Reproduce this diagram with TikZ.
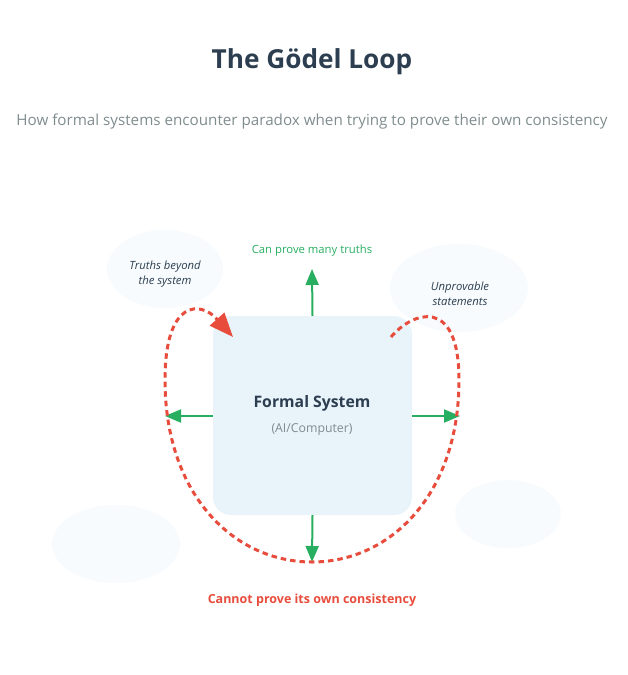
\documentclass[tikz,border=0pt]{standalone}
\usepackage{fontspec}
\setmainfont{Open Sans}
\usetikzlibrary{arrows.meta, positioning}
\definecolor{ink}{HTML}{2C3E50}
\definecolor{muted}{HTML}{7F8C8D}
\definecolor{okgreen}{HTML}{27AE60}
\definecolor{badred}{HTML}{E74C3C}
\definecolor{boxfill}{HTML}{E8F3FA}
\definecolor{cloudfill}{HTML}{F7FBFD}
\tikzset{
  cloudtext/.style={text=ink, font=\fontsize{11.3}{15}\selectfont\itshape, align=center},
  proves/.style={draw=okgreen, line width=2pt, -{Triangle[length=16pt, width=13pt]}},
  loopline/.style={draw=badred, line width=3pt, dash pattern=on 5.5pt off 4pt,
    -{Triangle[length=24pt, width=19pt, fill=badred]}},
}

\begin{document}
\begin{tikzpicture}[x=1pt, y=-1pt]
    \useasboundingbox (0,0) rectangle (628,675);

    % titles
    \node[text=ink, font=\fontsize{26.2}{31}\selectfont\bfseries] (title) at (312,62) {The Gödel Loop};
    \node[text=muted, font=\fontsize{15.2}{19}\selectfont] (subtitle) at (312,122) {How formal systems encounter paradox when trying to prove their own consistency};

    % background clouds
    \fill[cloudfill] (165,269) ellipse [x radius=58, y radius=39];
    \fill[cloudfill] (459,288) ellipse [x radius=69, y radius=44];
    \fill[cloudfill] (116,544) ellipse [x radius=64, y radius=39];
    \fill[cloudfill] (508,514) ellipse [x radius=53, y radius=34];
    \node[cloudtext] (beyond) at (165,274) {Truths beyond\\the system};
    \node[cloudtext] (unprov) at (460,294) {Unprovable\\statements};

    % the system
    \node[fill=boxfill, rounded corners=18pt, minimum width=199pt, minimum height=199pt] (sys) at (312.5,415.5) {};
    \node[text=ink, font=\fontsize{15.8}{18}\selectfont\bfseries] (name) at (312,403) {Formal System};
    \node[text=muted, font=\fontsize{12.3}{15}\selectfont, below=6pt of name] (kind) {(AI/Computer)};

    % outward arrows
    \coordinate (up) at (312,269);
    \coordinate (left) at (165,416);
    \coordinate (right) at (460,416);
    \coordinate (down) at (312,562);
    \draw[proves] (sys.north) -- (up);
    \draw[proves] (sys.west |- left) -- (left);
    \draw[proves] (sys.east |- right) -- (right);
    \draw[proves] (sys.south) -- (down);

    % labels
    \node[text=okgreen, font=\fontsize{11.3}{14}\selectfont] (can) at (312,251) {Can prove many truths};
    \node[text=badred, font=\fontsize{12.5}{15}\selectfont\bfseries] (cannot) at (312,600) {Cannot prove its own consistency};

    % the loop
    \coordinate (start) at (391,337);
    \coordinate (back) at (233,337);
    \draw[loopline] (start) .. controls (412,312) and (459,295) .. (459,380)
      .. controls (459,495) and (390,562) .. (down)
      .. controls (234,562) and (165,495) .. (165,380)
      .. controls (165,300) and (200,300) .. (back);
\end{tikzpicture}
\end{document}
